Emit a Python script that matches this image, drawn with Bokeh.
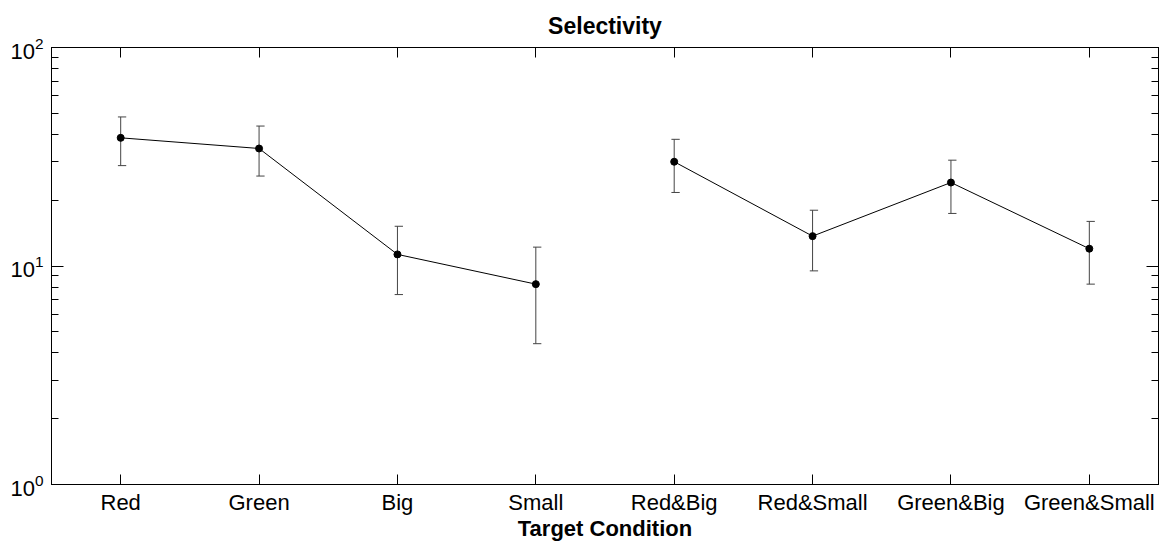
from bokeh.plotting import figure
from bokeh.models import LogAxis, LinearAxis, FixedTicker, LogTicker, Range1d, CustomJSTickFormatter
from bokeh.embed import file_html
from bokeh.resources import INLINE

categories = ["Red", "Green", "Big", "Small", "Red&Big", "Red&Small", "Green&Big", "Green&Small"]
means = [38.6, 34.5, 11.3, 8.26, 30.0, 13.7, 24.1, 12.0]
upper = [48.1, 43.7, 15.2, 12.2, 38.0, 18.0, 30.5, 16.0]
lower = [28.8, 25.8, 7.40, 4.41, 21.7, 9.5, 17.4, 8.26]
groups = [[0, 1, 2, 3], [4, 5, 6, 7]]

FONT = "Liberation Sans"
xs = [i + 1 for i in range(len(categories))]

p = figure(width=1166, height=544, y_axis_type="log", output_backend="svg",
           toolbar_location=None, x_range=Range1d(0.5, 8.5), y_range=Range1d(1, 100),
           min_border_left=51, min_border_right=8, min_border_top=47, min_border_bottom=60)
p.background_fill_color = "white"
p.border_fill_color = "white"
p.outline_line_color = "black"
p.outline_line_width = 1
p.xgrid.visible = False
p.ygrid.visible = False

p.title.text = "Selectivity"
p.title.text_font = FONT
p.title.text_font_size = "23px"
p.title.text_font_style = "bold"
p.title.text_color = "black"
p.title.align = "center"
p.title.standoff = 18

# x axis
xa = p.xaxis[0]
xa.ticker = FixedTicker(ticks=xs)
xa.major_label_overrides = {x: c for x, c in zip(xs, categories)}
xa.major_label_text_font = FONT
xa.major_label_text_font_size = "22px"
xa.major_label_text_color = "black"
xa.major_tick_in = 10
xa.major_tick_out = 0
xa.minor_tick_line_color = None
xa.axis_line_color = "black"
xa.major_label_standoff = 5
xa.axis_label = "Target Condition"
xa.axis_label_text_font = FONT
xa.axis_label_text_font_size = "22px"
xa.axis_label_text_font_style = "bold"
xa.axis_label_text_color = "black"
xa.axis_label_standoff = -2

# y axis
ya = p.yaxis[0]
ya.major_label_text_font = FONT
ya.major_label_text_font_size = "22px"
ya.major_label_text_color = "black"
ya.major_tick_in = 12
ya.major_tick_out = 0
ya.minor_tick_in = 7
ya.minor_tick_out = 0
ya.major_label_standoff = 8
ya.axis_line_color = "black"
ya.ticker = LogTicker(num_minor_ticks=10, desired_num_ticks=3)

blank = CustomJSTickFormatter(code="return ''")

# top and right axes (tick marks only)
ta = LinearAxis(ticker=FixedTicker(ticks=xs), formatter=blank,
                major_tick_in=10, major_tick_out=0, minor_tick_line_color=None,
                axis_line_color="black", major_label_standoff=0)
p.add_layout(ta, "above")
ra = LogAxis(ticker=LogTicker(num_minor_ticks=10, desired_num_ticks=3), formatter=blank,
             major_tick_in=12, major_tick_out=0,
             minor_tick_in=7, minor_tick_out=0, axis_line_color="black",
             major_label_standoff=0)
p.add_layout(ra, "right")

# error bars
p.segment(x0=xs, y0=lower, x1=xs, y1=upper, line_color="#444444", line_width=1)
p.segment(x0=[x - 0.02 for x in xs], y0=upper, x1=[x + 0.04 for x in xs], y1=upper,
          line_color="#444444", line_width=1)
p.segment(x0=[x - 0.02 for x in xs], y0=lower, x1=[x + 0.04 for x in xs], y1=lower,
          line_color="#444444", line_width=1)

for g in groups:
    p.line([xs[i] for i in g], [means[i] for i in g], line_color="black", line_width=1)

p.scatter(xs, means, size=7, fill_color="black", line_color="black")

open("out.html", "w").write(file_html(p, INLINE))
